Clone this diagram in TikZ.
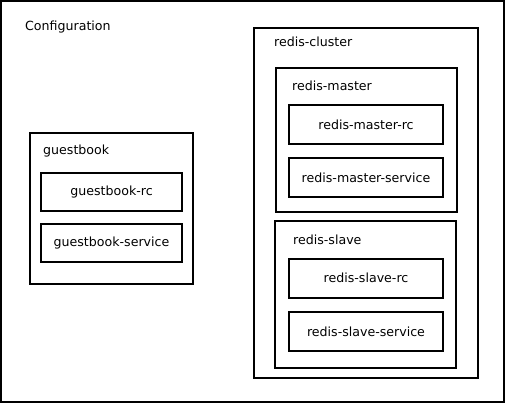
\documentclass[tikz,border=0pt]{standalone}
\usepackage{fontspec}
\setmainfont{DejaVu Sans}
\begin{document}
\begin{tikzpicture}[x=1pt,y=-1pt,font=\fontsize{12.6}{14}\selectfont,
    box/.style={draw, line width=2pt, inner sep=0pt},
    item/.style={box, minimum width=154pt, minimum height=39pt},
    title/.style={anchor=west, inner sep=0pt}]
    \useasboundingbox (0,0) rectangle (505,403);
    % outer frame
    \node[box, minimum width=503pt, minimum height=401pt] (config) at (252.5,201.5) {};
    \node[title] (configlabel) at (25,27) {Configuration};
    % guestbook
    \node[box, minimum width=163pt, minimum height=150pt] (guestbook) at (111.5,208.5) {};
    \node[title] (guestbooklabel) at (43,151) {guestbook};
    \node[item, minimum width=141pt, minimum height=38pt] (guestbookrc) at (111.5,192) {guestbook-rc};
    \node[item, minimum width=141pt, minimum height=38pt] (guestbooksvc) at (111.5,243) {guestbook-service};
    % redis cluster
    \node[box, minimum width=224pt, minimum height=350pt] (cluster) at (366,203) {};
    \node[title] (clusterlabel) at (274,42) {redis-cluster};
    \node[box, minimum width=181pt, minimum height=144pt] (master) at (366.5,140) {};
    \node[title] (masterlabel) at (292,86) {redis-master};
    \node[item] (masterrc) at (366,124.5) {redis-master-rc};
    \node[item] (mastersvc) at (366,177.5) {redis-master-service};
    \node[box, minimum width=181pt, minimum height=147pt] (slave) at (365.5,294.5) {};
    \node[title] (slavelabel) at (293,240) {redis-slave};
    \node[item] (slaverc) at (366,278) {redis-slave-rc};
    \node[item] (slavesvc) at (366,331.5) {redis-slave-service};
\end{tikzpicture}
\end{document}
